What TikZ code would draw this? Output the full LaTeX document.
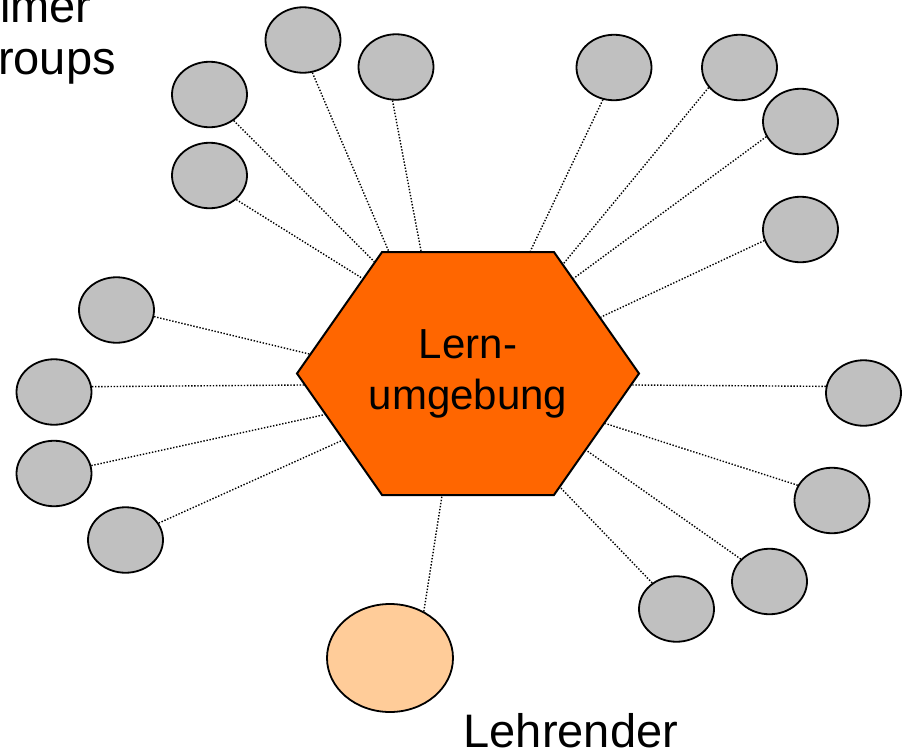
\documentclass[tikz,border=0pt]{standalone}
\usepackage{fontspec}
\setmainfont{Liberation Sans}
\usetikzlibrary{shapes.geometric,shapes.symbols}
\definecolor{tgray}{HTML}{C0C0C0}
\definecolor{luorange}{HTML}{FF6600}
\definecolor{lpeach}{HTML}{FFCC99}
\newcommand{\hexline}[1]{\makebox[171pt]{#1}}

\begin{document}
\begin{tikzpicture}[x=1pt,y=-1pt,
    tnode/.style={ellipse,draw,line width=1.8pt,fill=tgray,minimum width=75pt,minimum height=65.5pt,inner sep=0pt},
    lnode/.style={ellipse,draw,line width=1.8pt,fill=lpeach,minimum width=126pt,minimum height=108pt,inner sep=0pt},
    hexnode/.style={signal,signal to=east and west,signal pointer angle=110,draw,line width=2pt,fill=luorange,
        minimum width=342pt,minimum height=243pt,inner sep=0pt,align=center,font=\fontsize{42}{51}\selectfont},
    link/.style={line width=1.4pt,dash pattern=on 1.4pt off 1.7pt}]
        \useasboundingbox (0,0) rectangle (908,750);
        \node(LU) [hexnode] at (468,373.5) {\hexline{Lern-}\\\hexline{umgebung}};
        \node(T1)  [tnode] at (303,40) {};
        \node(T2)  [tnode] at (396,67) {};
        \node(T3)  [tnode] at (209.5,94.5) {};
        \node(T4)  [tnode] at (209.5,175.5) {};
        \node(T5)  [tnode] at (614,67.5) {};
        \node(T6)  [tnode] at (739.5,67.5) {};
        \node(T7)  [tnode] at (800.5,121.5) {};
        \node(T8)  [tnode] at (800.5,229.5) {};
        \node(T9)  [tnode] at (116.5,310) {};
        \node(T10) [tnode] at (54,392) {};
        \node(T11) [tnode] at (54,473.5) {};
        \node(T12) [tnode] at (125.5,540) {};
        \node(T13) [tnode] at (863.5,393) {};
        \node(T14) [tnode] at (832,500.5) {};
        \node(T15) [tnode] at (769.5,581.5) {};
        \node(T16) [tnode] at (676.5,609) {};
        \node(L)   [lnode] at (390,658) {};
        \node(LT)  [anchor=base west,font=\fontsize{47}{54}\selectfont,inner sep=0pt] at (463.5,747) {Lehrender};
        \node(G1)  [anchor=base west,font=\fontsize{47}{54}\selectfont,inner sep=0pt] at (0,22) {imer};
        \node(G2)  [anchor=base west,font=\fontsize{47}{54}\selectfont,inner sep=0pt] at (-2,74) {roups};
        \draw[link](T1.-74) -- (LU.123);
        \draw[link](T2.-96) -- (LU.111);
        \draw[link](T3.-47) -- (LU.130);
        \draw[link](T4.-42) -- (LU.138.6);
        \draw[link](T5.-109) -- (LU.63.7);
        \draw[link](T6.213) -- (LU.49.1);
        \draw[link](T7.204) -- (LU.42.3);
        \draw[link](T8.197) -- (LU.23.9);
        \draw[link](T9.-10) -- (LU.173.3);
        \draw[link](T10.8) -- (LU.184);
        \draw[link](T11.12) -- (LU.196.2);
        \draw[link](T12.27) -- (LU.208);
        \draw[link](T13.170) -- (LU.-4.4);
        \draw[link](T14.156) -- (LU.-20.5);
        \draw[link](T15.142) -- (LU.-33.2);
        \draw[link](T16.133) -- (LU.-51.3);
        \draw[link](L.54) -- (LU.258.4);
    \end{tikzpicture}
\end{document}
